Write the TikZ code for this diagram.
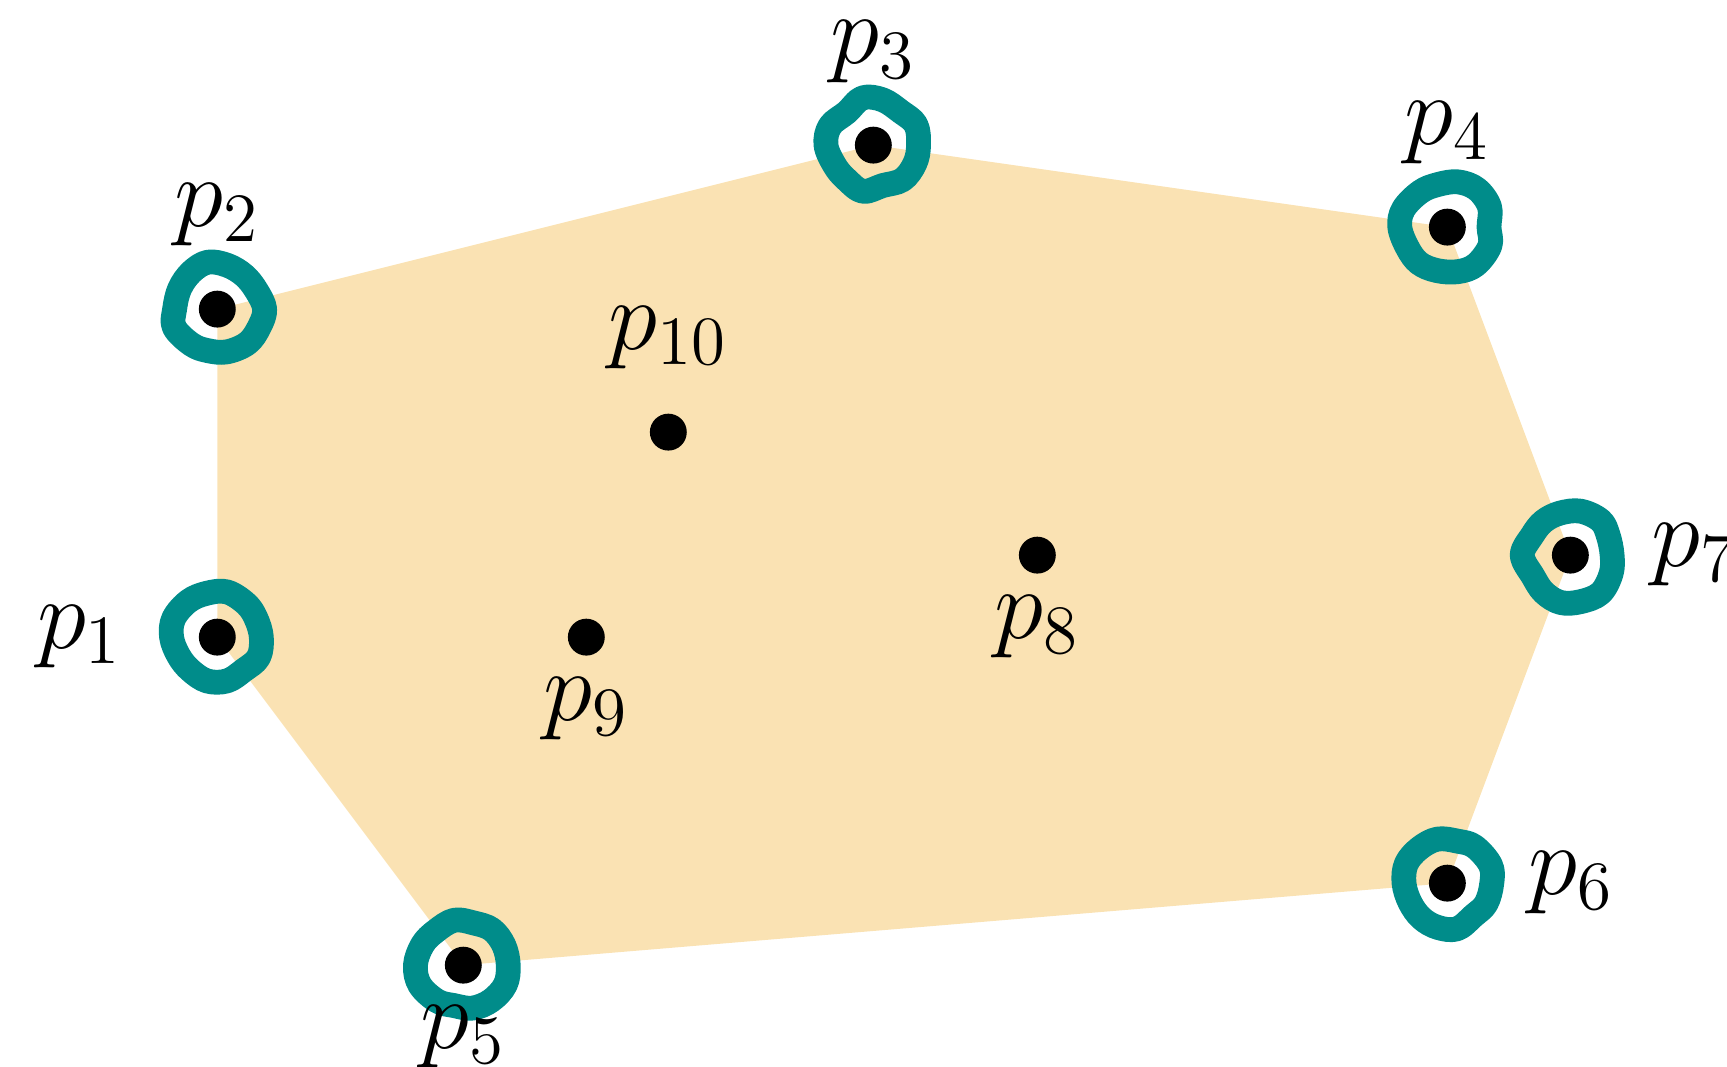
\documentclass[tikz,border=0pt]{standalone}
\usetikzlibrary{positioning}
\definecolor{hullfill}{RGB}{250,226,179}
\definecolor{ringteal}{RGB}{0,140,138}

\begin{document}
\begin{tikzpicture}[
  x=0.5cm, y=0.5cm,
  dot/.style={circle, fill=black, inner sep=0pt, minimum size=0.225cm},
  lbl/.style={inner sep=0pt, font=\LARGE},
  ring/.style={draw=ringteal, line width=4.3pt, line join=round}
]
\pgfmathsetseed{11}
\useasboundingbox (-2.65,-5.24) rectangle (18.41,7.77);

\foreach \n/\x/\y in {1/0/0, 2/0/4, 3/8/6, 4/15/5, 5/3/-4, 6/15/-3,
                      7/16.5/1, 8/10/1, 9/4.5/0, 10/5.5/2.5}
  \coordinate (c\n) at (\x,\y);

% hull
\fill[hullfill] (c1) -- (c5) -- (c6) -- (c7) -- (c4) -- (c3) -- (c2) -- cycle;

% hull vertices, wobbly rings
\foreach \n in {1,...,7}
  \draw[ring, shift={(c\n)}]
    plot[smooth cycle, tension=0.6, samples=14, domain=0:334.3]
    ({cos(\x)*(0.55+0.09*rnd-0.045)}, {sin(\x)*(0.55+0.09*rnd-0.045)});

\foreach \n in {1,...,10}
  \node[dot] (p\n) at (c\n) {};

\node[lbl, left=0.45cm of p1]   (l1)  {$p_1$};
\node[lbl, above=0.26cm of p2]  (l2)  {$p_2$};
\node[lbl, above=0.25cm of p3]  (l3)  {$p_3$};
\node[lbl, above=0.26cm of p4]  (l4)  {$p_4$};
\node[lbl, below=0.12cm of p5]  (l5)  {$p_5$};
\node[lbl, right=0.37cm of p6]  (l6)  {$p_6$};
\node[lbl, right=0.37cm of p7]  (l7)  {$p_7$};
\node[lbl, below=0.12cm of p8]  (l8)  {$p_8$};
\node[lbl, below=0.12cm of p9]  (l9)  {$p_9$};
\node[lbl, above=0.26cm of p10] (l10) {$p_{10}$};

\end{tikzpicture}
\end{document}
